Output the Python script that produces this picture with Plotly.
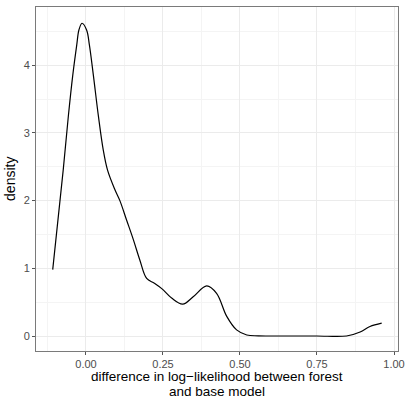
import plotly.graph_objects as go

# Kernel density estimate of the log-likelihood difference (forest vs. base model)
diff_x = [-0.108, -0.074, -0.057, -0.043, -0.030, -0.023, -0.013, 0.002, 0.011,
          0.024, 0.040, 0.056, 0.070, 0.094, 0.110, 0.132, 0.154, 0.175, 0.197,
          0.222, 0.246, 0.278, 0.314, 0.348, 0.392, 0.424, 0.457, 0.489, 0.522,
          0.56, 0.65, 0.75, 0.846, 0.89, 0.922, 0.96]
density_y = [0.98, 2.45, 3.26, 3.85, 4.30, 4.52, 4.62, 4.52, 4.30,
             3.85, 3.26, 2.75, 2.45, 2.16, 2.0, 1.71, 1.42, 1.12, 0.85,
             0.78, 0.70, 0.56, 0.47, 0.58, 0.74, 0.63, 0.29, 0.09, 0.015,
             0.003, 0.0, 0.0, 0.0, 0.06, 0.14, 0.19]

x_ticks = [0.0, 0.25, 0.5, 0.75, 1.0]
x_tick_labels = ["0.00", "0.25", "0.50", "0.75", "1.00"]
y_ticks = [0, 1, 2, 3, 4]
y_tick_labels = ["0", "1", "2", "3", "4"]

x_title_lines = ["difference in log\u2212likelihood between forest", "and base model"]
y_title = "density"

FONT = "Liberation Sans, Arial, Helvetica, sans-serif"

fig = go.Figure(
    go.Scatter(
        x=diff_x, y=density_y, mode="lines",
        line=dict(color="black", width=1.2, shape="spline", smoothing=1.0),
        hoverinfo="skip",
    )
)

axis_common = dict(
    showgrid=True, gridcolor="#EBEBEB", gridwidth=1,
    zeroline=False, automargin=False,
    showline=True, mirror=True, linecolor="#7a7a7a", linewidth=1,
    ticks="outside", ticklen=3, tickwidth=1, tickcolor="#555555",
    tickfont=dict(family=FONT, size=11, color="#4D4D4D"),
)

fig.update_xaxes(
    **axis_common,
    range=[-0.1623, 1.013],
    tickvals=x_ticks, ticktext=x_tick_labels,
    minor=dict(dtick=0.25, tick0=0.125, showgrid=True, gridcolor="#F4F4F4", gridwidth=0.6, ticks=""),
)
fig.update_yaxes(
    **axis_common,
    range=[-0.2216, 4.86],
    tickvals=y_ticks, ticktext=y_tick_labels,
    minor=dict(dtick=1, tick0=0.5, showgrid=True, gridcolor="#F4F4F4", gridwidth=0.6, ticks=""),
)

# Two-line x-axis title placed as separate annotations for tight line spacing
title_annotations = [
    dict(text=line, xref="paper", yref="paper", x=0.5, y=yy,
         xanchor="center", yanchor="middle", showarrow=False, borderpad=0,
         font=dict(family=FONT, size=13.5, color="black"))
    for line, yy in zip(x_title_lines, [-0.0741, -0.1177])
]
title_annotations.append(
    dict(text=y_title, xref="paper", yref="paper", x=-0.072, y=0.5,
         xanchor="center", yanchor="middle", showarrow=False, textangle=-90,
         borderpad=0, font=dict(family=FONT, size=14, color="black"))
)

fig.update_layout(
    width=405, height=399,
    margin=dict(l=36, r=7, t=7, b=48),
    paper_bgcolor="white", plot_bgcolor="white",
    showlegend=False,
    annotations=title_annotations,
)

fig.write_html("out.html")
